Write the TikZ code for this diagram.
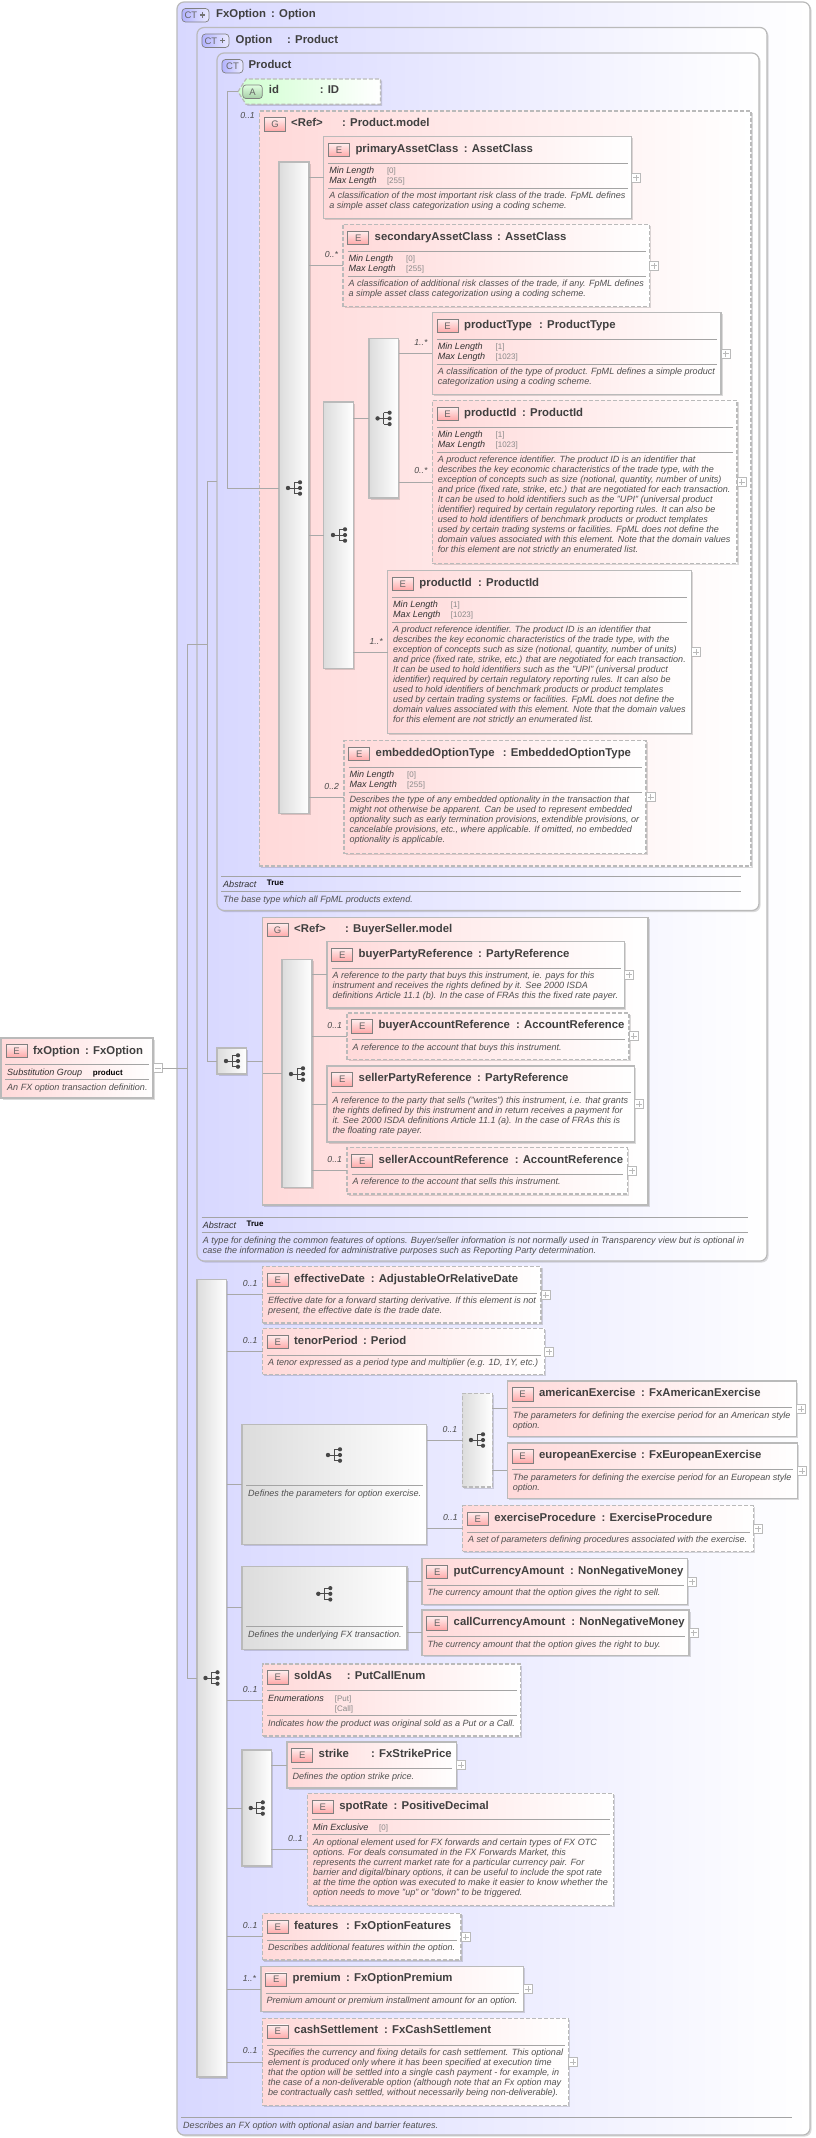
\documentclass[tikz,border=0pt]{standalone}
\usepackage{fontspec}
\setmainfont{Liberation Sans}
\usetikzlibrary{shadows,calc}
\definecolor{bd}{HTML}{BABABA}
\definecolor{sepc}{HTML}{A4A4A4}
\definecolor{conc}{HTML}{A8A8A8}
\definecolor{pinkc}{HTML}{FFD9D9}
\definecolor{lilac}{HTML}{D8D8FF}
\definecolor{grayc}{HTML}{DCDCDC}
\definecolor{greenc}{HTML}{D0FFD0}
\definecolor{nmc}{HTML}{404040}
\definecolor{dsc}{HTML}{505050}
\definecolor{valc}{HTML}{8A8A8A}
\definecolor{eic}{HTML}{FFA8A8}
\tikzset{
  shd/.style={drop shadow={shadow xshift=1.6pt,shadow yshift=-1.6pt,opacity=.14,fill=black}},
  solidb/.style={draw=bd,line width=1.2pt},
  dashb/.style={draw=bd,line width=1.2pt,dash pattern=on 4pt off 2pt},
  ered/.style={shd,left color=pinkc,right color=white},
  ctbox/.style={shd,solidb,left color=lilac,right color=white,rounded corners=7pt},
  gbar/.style={shd,left color=grayc,right color=white},
  conn/.style={draw=conc,line width=.8pt},
  sepl/.style={draw=sepc,line width=.8pt},
  nm/.style={font=\fontsize{11.35}{12}\selectfont\bfseries,text=nmc,inner sep=0,anchor=base west},
  dsc/.style={font=\fontsize{9.05}{10}\selectfont\itshape,text=dsc,inner sep=0,anchor=north west,align=left},
  fct/.style={font=\fontsize{9.05}{10}\selectfont\itshape,text=black!80,inner sep=0,anchor=base west},
  fval/.style={font=\fontsize{8}{10}\selectfont,text=valc,inner sep=0,anchor=base west},
  fbold/.style={font=\fontsize{8}{10}\selectfont\bfseries,text=black,inner sep=0,anchor=base west},
  card/.style={font=\fontsize{8.7}{10}\selectfont\itshape,text=black!70,inner sep=0,anchor=base east},
  icn/.style={draw=black!50,line width=.7pt,minimum width=21pt,minimum height=13.5pt,inner sep=0,outer sep=0,anchor=north west,font=\fontsize{9.5}{10}\selectfont,text=black!60},
  eicon/.style={icn,top color=pinkc!45,bottom color=eic},
  aicon/.style={icn,rounded corners=3pt,top color=green!12,bottom color=green!45!black!35,minimum width=19.5pt},
  cticon/.style={icn,rounded corners=3.5pt,left color=blue!30!white,right color=blue!8!white},
  pbox/.style={draw=bd,line width=.7pt,fill=white,minimum width=9pt,minimum height=9pt,inner sep=0,outer sep=0,anchor=west},
}
% a box given by its corners
\newcommand\bx[6]{\pgfmathsetmacro\bxw{#4-#2}\pgfmathsetmacro\bxh{#5-#3}%
  \node[#6,minimum width=\bxw pt,minimum height=\bxh pt,anchor=north west,inner sep=0,outer sep=0] (#1) at (#2,#3) {};}
% element: id,x0,y0,x1,y1,border,name,colon x,type
\newcommand\el[9]{\bx{#1}{#2}{#3}{#4}{#5}{ered,#6}
  \node[eicon] (#1-i) at (#2+4.7,#3+6.5) {E};
  \node[nm] (#1-n) at (#2+31.5,#3+15.5) {#7};
  \node[nm] (#1-t) at (#8,#3+15.5) {: #9};}
\newcommand\hsep[2]{\draw[sepl] ([xshift=4.5pt,yshift=-#2pt]#1.north west) -- ([xshift=-4pt,yshift=-#2pt]#1.north east);}
\newcommand\de[3]{\node[dsc] (#1-d) at ([xshift=5.3pt,yshift=-#2pt+7pt]#1.north west) {\rule{0pt}{7pt}#3};}
\newcommand\fa[3]{\hsep{#1}{26.5}\hsep{#1}{52}
  \node[fct] (#1-a) at ([xshift=5.3pt,yshift=-37pt]#1.north west) {Min Length};
  \node[fct] (#1-b) at ([xshift=5.3pt,yshift=-47pt]#1.north west) {Max Length};
  \node[fval] (#1-c) at ([xshift=63pt,yshift=-37pt]#1.north west) {[#2]};
  \node[fval] (#1-e) at ([xshift=63pt,yshift=-47pt]#1.north west) {[#3]};}
\newcommand\plusb[1]{\node[pbox] (#1-p) at (#1.east) {};
  \draw[draw=bd,line width=.6pt] ([xshift=-3pt]#1-p.center) -- ([xshift=3pt]#1-p.center) ([yshift=-3pt]#1-p.center) -- ([yshift=3pt]#1-p.center);}
\newcommand\minusb[1]{\node[pbox] (#1-p) at (#1.east) {};
  \draw[draw=bd,line width=.6pt] ([xshift=-3pt]#1-p.center) -- ([xshift=3pt]#1-p.center);}
% model icon
\newcommand\modl[2]{\begin{scope}[shift={(#1,#2)}]
  \draw[black!70,line width=.8pt] (-6,0) -- (6,0) (0,-5.7) -- (0,5.7) (0,-5.7) -- (6,-5.7) (0,5.7) -- (6,5.7);
  \fill[black!72] (-6,0) circle (2.2pt) (6,-5.7) circle (2.1pt) (6,0) circle (2.1pt) (6,5.7) circle (2.1pt);
  \end{scope}}
% bar with icon: id,x0,y0,x1,y1,border,icon x,icon y
\newcommand\sq[8]{\bx{#1}{#2}{#3}{#4}{#5}{gbar,#6}\modl{#7}{#8}}
% connector from bar to element, at the element's mid height
\newcommand\lnk[2]{\draw[conn] (#1.east |- #2.west) -- (#2.west);}
\newcommand\crd[3]{\node[card] (#1-m) at ([xshift=-4.8pt,yshift=8pt]#1.west) {#2};}
\newcommand\cplus[2]{\draw[black!55,line width=1.6pt] (#1-2.6,#2) -- (#1+2.6,#2) (#1,#2-2.6) -- (#1,#2+2.6);}
\begin{document}
\begin{tikzpicture}[x=1pt,y=-1pt]
\fill[white] (0,0) rectangle (815,2138);
\useasboundingbox (0,0) rectangle (815,2138);
% ---- complex types
\bx{fxct}{177}{2}{810}{2135}{ctbox}
\bx{option}{197}{27.5}{767}{1261}{ctbox}
\bx{product}{217}{53}{759}{910.5}{ctbox}
\node[cticon,minimum width=27pt,align=left,text width=24pt] (ic1) at (182,8.5) {\hspace{1pt}CT};
\cplus{202.5}{15}
\node[nm] (t1a) at (216,17.5) {FxOption};
\node[nm] (t1b) at (271,17.5) {: Option};
\node[cticon,minimum width=27pt,align=left,text width=24pt] (ic2) at (202,34) {\hspace{1pt}CT};
\cplus{222.5}{40.5}
\node[nm] (t2a) at (235.5,43.4) {Option};
\node[nm] (t2b) at (287,43.4) {: Product};
\node[cticon] (ic3) at (222,59.5) {CT};
\node[nm] (t3a) at (248.4,69) {Product};
% ---- attribute
\path[shd,dashb,left color=greenc,right color=white] (238,91.7) -- (246,79) -- (380.5,79) -- (380.5,104.3) -- (246,104.3) -- cycle;
\coordinate (idattr) at (238,91.7);
\node[aicon] (ida) at (242.8,85) {A};
\node[nm] (idn) at (268.7,94) {id};
\node[nm] (idt) at (319.6,94) {: ID};
% ---- Product.model group
\bx{gprod}{259.4}{111}{751}{866}{ered,dashb}
\node[eicon] (gprod-i) at (264.5,117.5) {G};
\node[nm] (gprod-n) at (291,127) {<Ref>};
\node[nm] (gprod-t) at (342,127) {: Product.model};
\sq{sa}{279}{162}{309}{813.4}{solidb}{294}{488}
\sq{sc}{323.8}{402}{353.4}{668.4}{solidb}{339}{535}
\sq{sd}{369}{338.5}{398.7}{498}{solidb}{383.6}{418.4}
\el{pac}{323.8}{136.7}{631.5}{218.7}{solidb}{primaryAssetClass}{463.6}{AssetClass}
\fa{pac}{0}{255}\plusb{pac}
\de{pac}{62}{A classification of the most important risk class of the trade. FpML defines\\a simple asset class categorization using a coding scheme.}
\el{sac}{343}{224.5}{649.7}{306.5}{dashb}{secondaryAssetClass}{497}{AssetClass}
\fa{sac}{0}{255}\plusb{sac}
\de{sac}{62}{A classification of additional risk classes of the trade, if any. FpML defines\\a simple asset class categorization using a coding scheme.}
\el{pty}{432.4}{312.7}{721}{394.6}{solidb}{productType}{539}{ProductType}
\fa{pty}{1}{1023}\plusb{pty}
\de{pty}{62}{A classification of the type of product. FpML defines a simple product\\categorization using a coding scheme.}
\el{pia}{432.4}{400.5}{737}{563.4}{dashb}{productId}{522}{ProductId}
\fa{pia}{1}{1023}\plusb{pia}
\de{pia}{62}{A product reference identifier. The product ID is an identifier that\\describes the key economic characteristics of the trade type, with the\\exception of concepts such as size (notional, quantity, number of units)\\and price (fixed rate, strike, etc.) that are negotiated for each transaction.\\It can be used to hold identifiers such as the "UPI" (universal product\\identifier) required by certain regulatory reporting rules. It can also be\\used to hold identifiers of benchmark products or product templates\\used by certain trading systems or facilities. FpML does not define the\\domain values associated with this element. Note that the domain values\\for this element are not strictly an enumerated list.}
\el{pib}{387.7}{570.6}{691.3}{733.5}{solidb}{productId}{478}{ProductId}
\fa{pib}{1}{1023}\plusb{pib}
\de{pib}{62}{A product reference identifier. The product ID is an identifier that\\describes the key economic characteristics of the trade type, with the\\exception of concepts such as size (notional, quantity, number of units)\\and price (fixed rate, strike, etc.) that are negotiated for each transaction.\\It can be used to hold identifiers such as the "UPI" (universal product\\identifier) required by certain regulatory reporting rules. It can also be\\used to hold identifiers of benchmark products or product templates\\used by certain trading systems or facilities. FpML does not define the\\domain values associated with this element. Note that the domain values\\for this element are not strictly an enumerated list.}
\el{emb}{344}{740.7}{646}{853.7}{dashb}{embeddedOptionType}{502.6}{EmbeddedOptionType}
\fa{emb}{0}{255}\plusb{emb}
\de{emb}{62}{Describes the type of any embedded optionality in the transaction that\\might not otherwise be apparent. Can be used to represent embedded\\optionality such as early termination provisions, extendible provisions, or\\cancelable provisions, etc., where applicable. If omitted, no embedded\\optionality is applicable.}
% product footer
\coordinate (pfa) at (221.4,876.4); \coordinate (pfb) at (740.6,876.4);
\coordinate (pfc) at (221.4,891); \coordinate (pfd) at (740.6,891);
\draw[sepl] (pfa) -- (pfb) (pfc) -- (pfd);
\node[fct] (pf1) at (223,887) {Abstract};
\node[fbold] (pf2) at (266.6,885.7) {True};
\node[dsc] (pf3) at (223,895) {\rule{0pt}{7pt}The base type which all FpML products extend.};
% ---- BuyerSeller.model
\sq{sm}{217}{1048}{246.7}{1074}{solidb}{232}{1061}
\bx{gbuy}{262.5}{917.4}{648}{1205}{ered,solidb}
\node[eicon] (gbuy-i) at (267,923) {G};
\node[nm] (gbuy-n) at (294,932) {<Ref>};
\node[nm] (gbuy-t) at (345,932) {: BuyerSeller.model};
\sq{sb}{282}{959.4}{312}{1187.4}{solidb}{297}{1074}
\el{bpr}{327}{941.5}{624.7}{1008}{solidb}{buyerPartyReference}{478}{PartyReference}
\hsep{bpr}{26.5}\plusb{bpr}
\de{bpr}{37}{A reference to the party that buys this instrument, ie. pays for this\\instrument and receives the rights defined by it. See 2000 ISDA\\definitions Article 11.1 (b). In the case of FRAs this the fixed rate payer.}
\el{bar}{347}{1013}{629}{1059.6}{dashb}{buyerAccountReference}{516}{AccountReference}
\hsep{bar}{26.5}\plusb{bar}
\de{bar}{37}{A reference to the account that buys this instrument.}
\el{spr}{327}{1066}{634.6}{1142}{solidb}{sellerPartyReference}{477}{PartyReference}
\hsep{spr}{26.5}\plusb{spr}
\de{spr}{37}{A reference to the party that sells ("writes") this instrument, i.e. that grants\\the rights defined by this instrument and in return receives a payment for\\it. See 2000 ISDA definitions Article 11.1 (a). In the case of FRAs this is\\the floating rate payer.}
\el{sar}{347}{1147.5}{627.3}{1194}{dashb}{sellerAccountReference}{514.6}{AccountReference}
\hsep{sar}{26.5}\plusb{sar}
\de{sar}{37}{A reference to the account that sells this instrument.}
% option footer
\coordinate (ofa) at (201.7,1217.4); \coordinate (ofb) at (748.4,1217.4);
\coordinate (ofc) at (201.7,1232); \coordinate (ofd) at (748.4,1232);
\draw[sepl] (ofa) -- (ofb) (ofc) -- (ofd);
\node[fct] (of1) at (202.7,1228) {Abstract};
\node[fbold] (of2) at (246.4,1226.7) {True};
\node[dsc] (of3) at (202.7,1236) {\rule{0pt}{7pt}A type for defining the common features of options. Buyer/seller information is not normally used in Transparency view but is optional in\\case the information is needed for administrative purposes such as Reporting Party determination.};
% ---- bottom sequence
\sq{big}{197}{1279.3}{226.6}{2077}{solidb}{211.5}{1678}
\el{eff}{262.5}{1266.6}{541}{1323}{dashb}{effectiveDate}{370.6}{AdjustableOrRelativeDate}
\hsep{eff}{26.5}\plusb{eff}
\de{eff}{37}{Effective date for a forward starting derivative. If this element is not\\present, the effective date is the trade date.}
\el{ten}{262.5}{1328.6}{544.7}{1374.4}{dashb}{tenorPeriod}{362.8}{Period}
\hsep{ten}{26.5}\plusb{ten}
\de{ten}{37}{A tenor expressed as a period type and multiplier (e.g. 1D, 1Y, etc.)}
% exercise group
\sq{gr1}{242}{1424.7}{426.7}{1544.5}{solidb}{334}{1455}
\draw[sepl] ([xshift=4pt,yshift=-60.6pt]gr1.north west) -- ([xshift=-4pt,yshift=-60.6pt]gr1.north east);
\node[dsc] (gr1-d) at (248,1489) {\rule{0pt}{7pt}Defines the parameters for option exercise.};
\sq{ch1}{462.6}{1393.3}{492.2}{1487}{dashb}{477}{1440}
\el{ame}{507.3}{1381}{796.3}{1436.7}{solidb}{americanExercise}{640.9}{FxAmericanExercise}
\hsep{ame}{26.5}\plusb{ame}
\de{ame}{37}{The parameters for defining the exercise period for an American style\\option.}
\el{eur}{507.3}{1443}{797.3}{1498.7}{solidb}{europeanExercise}{640.9}{FxEuropeanExercise}
\hsep{eur}{26.5}\plusb{eur}
\de{eur}{37}{The parameters for defining the exercise period for an European style\\option.}
\el{exc}{462.6}{1505.6}{753.6}{1551.4}{dashb}{exerciseProcedure}{601.4}{ExerciseProcedure}
\hsep{exc}{26.5}\plusb{exc}
\de{exc}{37}{A set of parameters defining procedures associated with the exercise.}
% underlying group
\sq{gr2}{242}{1566.5}{407}{1649.2}{solidb}{324.3}{1593.8}
\draw[sepl] ([xshift=4pt,yshift=-60pt]gr2.north west) -- ([xshift=-4pt,yshift=-60pt]gr2.north east);
\node[dsc] (gr2-d) at (248,1630) {\rule{0pt}{7pt}Defines the underlying FX transaction.};
\el{put}{422}{1558.6}{687.6}{1604.5}{solidb}{putCurrencyAmount}{570}{NonNegativeMoney}
\hsep{put}{26.5}\plusb{put}
\de{put}{37}{The currency amount that the option gives the right to sell.}
\el{cal}{422}{1610}{689}{1655.4}{solidb}{callCurrencyAmount}{571.2}{NonNegativeMoney}
\hsep{cal}{26.5}\plusb{cal}
\de{cal}{37}{The currency amount that the option gives the right to buy.}
% soldAs
\el{sld}{262.5}{1664}{520.8}{1736}{dashb}{soldAs}{346.7}{PutCallEnum}
\hsep{sld}{26.6}\hsep{sld}{51.7}
\node[fct] (sld-a) at (267.8,1701.6) {Enumerations};
\node[fval] (sld-c) at (334.7,1701.6) {[Put]};
\node[fval] (sld-e) at (334.7,1711.6) {[Call]};
\de{sld}{62.4}{Indicates how the product was original sold as a Put or a Call.}
% strike and spot
\sq{ss}{242}{1750}{271.3}{1866}{solidb}{256.8}{1808}
\el{stk}{287}{1742}{456.3}{1788}{solidb}{strike}{371}{FxStrikePrice}
\hsep{stk}{26.5}\plusb{stk}
\de{stk}{37}{Defines the option strike price.}
\el{spt}{307.7}{1793.5}{613.8}{1905.4}{dashb}{spotRate}{393.5}{PositiveDecimal}
\hsep{spt}{26.2}\hsep{spt}{40.7}
\node[fct] (spt-a) at (313,1830.7) {Min Exclusive};
\node[fval] (spt-c) at (379,1830.7) {[0]};
\de{spt}{51.7}{An optional element used for FX forwards and certain types of FX OTC\\options. For deals consumated in the FX Forwards Market, this\\represents the current market rate for a particular currency pair. For\\barrier and digital/binary options, it can be useful to include the spot rate\\at the time the option was executed to make it easier to know whether the\\option needs to move "up" or "down" to be triggered.}
\el{fea}{262.5}{1913.7}{461}{1959.9}{dashb}{features}{346}{FxOptionFeatures}
\hsep{fea}{26.5}\plusb{fea}
\de{fea}{37}{Describes additional features within the option.}
\el{pre}{261}{1966.4}{523.4}{2011.8}{solidb}{premium}{346}{FxOptionPremium}
\hsep{pre}{26.5}\plusb{pre}
\de{pre}{37}{Premium amount or premium installment amount for an option.}
\el{csh}{262.5}{2018.4}{568.6}{2105.5}{dashb}{cashSettlement}{384}{FxCashSettlement}
\hsep{csh}{26.5}\plusb{csh}
\de{csh}{37}{Specifies the currency and fixing details for cash settlement. This optional\\element is produced only where it has been specified at execution time\\that the option will be settled into a single cash payment - for example, in\\the case of a non-deliverable option (although note that an Fx option may\\be contractually cash settled, without necessarily being non-deliverable).}
% fxOption footer
\coordinate (ffa) at (181.4,2117); \coordinate (ffb) at (792,2117);
\draw[sepl] (ffa) -- (ffb);
\node[dsc] (ff1) at (183,2121) {\rule{0pt}{7pt}Describes an FX option with optional asian and barrier features.};
% ---- root element
\bx{fx}{1}{1038}{153}{1098}{ered,solidb}
\node[eicon] (fx-i) at (6,1044) {E};
\node[nm] (fx-n) at (33,1054) {fxOption};
\node[nm] (fx-t) at (85,1054) {: FxOption};
\draw[sepl] (5,1064.3) -- (149,1064.3) (5,1079.3) -- (149,1079.3);
\node[fct] (fx-a) at (7,1075) {Substitution Group};
\node[fbold] (fx-b) at (92.7,1075) {product};
\node[dsc] (fx-d) at (7,1083) {\rule{0pt}{7pt}An FX option transaction definition.};
\minusb{fx}
% ---- connectors
\coordinate (tk1) at (227.6,488);
\coordinate (tk2) at (207,1061);
\coordinate (tk3) at (187.6,644.5);
\coordinate (tk4) at (187.6,1678);
\draw[conn] (idattr) -| (tk1) -- (sa.west |- tk1);
\draw[conn] (product.west) -| (tk2) -- (sm.west);
\draw[conn] (tk2 |- tk3) -- (tk3) -- (tk4) -- (big.west |- tk4);
\draw[conn] (fx-p.east) -- (tk3 |- fx-p.east);
\lnk{sa}{pac}\lnk{sa}{sac}\lnk{sa}{emb}
\draw[conn] (sa.east |- 0,535) -- (sc.west |- 0,535);
\draw[conn] (sc.east |- 0,418.4) -- (sd.west |- 0,418.4);
\lnk{sc}{pib}\lnk{sd}{pty}\lnk{sd}{pia}
\draw[conn] (sm.east) -- (gbuy.west |- sm.east);
\draw[conn] (gbuy.west |- 0,1073.4) -- (sb.west |- 0,1073.4);
\lnk{sb}{bpr}\lnk{sb}{bar}\lnk{sb}{spr}\lnk{sb}{sar}
\lnk{big}{eff}\lnk{big}{ten}\lnk{big}{sld}\lnk{big}{fea}\lnk{big}{pre}\lnk{big}{csh}
\draw[conn] (big.east |- gr1.west) -- (gr1.west);
\draw[conn] (big.east |- gr2.west) -- (gr2.west);
\draw[conn] (big.east |- ss.west) -- (ss.west);
\draw[conn] (gr1.east |- ch1.west) -- (ch1.west);
\lnk{gr1}{exc}\lnk{ch1}{ame}\lnk{ch1}{eur}\lnk{gr2}{put}\lnk{gr2}{cal}\lnk{ss}{stk}\lnk{ss}{spt}
% ---- cardinalities
\crd{sac}{0..*}{}\crd{pty}{1..*}{}\crd{pia}{0..*}{}\crd{pib}{1..*}{}\crd{emb}{0..2}{}
\crd{bar}{0..1}{}\crd{sar}{0..1}{}\crd{eff}{0..1}{}\crd{ten}{0..1}{}\crd{exc}{0..1}{}
\crd{sld}{0..1}{}\crd{spt}{0..1}{}\crd{fea}{0..1}{}\crd{pre}{1..*}{}\crd{csh}{0..1}{}
\node[card] (cg) at (255,119) {0..1};
\node[card] (cc) at (457.4,1432.6) {0..1};
\end{tikzpicture}
\end{document}
